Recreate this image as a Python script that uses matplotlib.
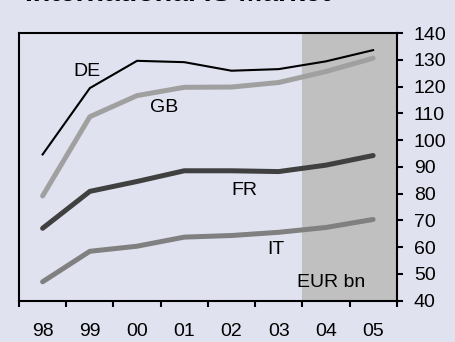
import matplotlib
matplotlib.use("Agg")
import matplotlib.pyplot as plt

plt.rcParams['font.family'] = ['Liberation Sans', 'DejaVu Sans']

# data
years = ["98", "99", "00", "01", "02", "03", "04", "05"]
de = [94.6, 119.4, 129.6, 129.1, 125.9, 126.5, 129.4, 133.6]
gb = [79.1, 108.7, 116.6, 119.7, 119.8, 121.5, 125.6, 130.6]
fr = [67.0, 80.8, 84.5, 88.5, 88.5, 88.2, 90.6, 94.2]
it = [47.0, 58.4, 60.3, 63.7, 64.3, 65.5, 67.3, 70.3]
forecast_from = 6  # index of first forecast year (04)

bg = "#e0e2f0"
fig = plt.figure(figsize=(4.56, 3.42), dpi=100, facecolor=bg)
ax = fig.add_axes([0.0417, 0.1213, 0.8283, 0.7822])
ax.set_facecolor(bg)

x = list(range(len(years)))
ax.axvspan(forecast_from - 0.5, len(years) - 0.5, color="#c0c0c0", lw=0, zorder=0)

ax.plot(x, gb, color="#a0a0a0", lw=3.6, solid_capstyle="round", zorder=2)
ax.plot(x, it, color="#808080", lw=3.6, solid_capstyle="round", zorder=2)
ax.plot(x, fr, color="#404040", lw=3.6, solid_capstyle="round", zorder=2)
ax.plot(x, de, color="black", lw=1.5, zorder=3)

fs = 14
ax.text(0.93, 125.6, "DE", fontsize=fs, ha="center", va="center")
ax.text(2.57, 112, "GB", fontsize=fs, ha="center", va="center")
ax.text(4.27, 81.2, "FR", fontsize=fs, ha="center", va="center")
ax.text(4.95, 59, "IT", fontsize=fs, ha="center", va="center")
ax.text(6.11, 46.9, "EUR bn", fontsize=fs, ha="center", va="center")

ax.set_xlim(-0.5, len(years) - 0.5)
ax.set_ylim(40, 140)
ax.set_yticks(range(40, 141, 10))
ax.yaxis.tick_right()
ax.tick_params(axis="y", direction="out", length=4.3, width=1.5, labelsize=fs, pad=8)

ax.set_xticks([i - 0.5 for i in range(len(years) + 1)])
ax.set_xticklabels([])
ax.set_xticks(x, minor=True)
ax.set_xticklabels(years, minor=True)
ax.tick_params(axis="x", which="major", direction="out", length=4, width=1.5)
ax.tick_params(axis="x", which="minor", length=0, labelsize=fs, pad=16)

for s in ax.spines.values():
    s.set_linewidth(1.5)

# title sits mostly above the canvas, as in the source crop
fig.text(0.055, 0.996, "International IS Market", fontsize=20.5, fontweight="bold",
         ha="left", va="baseline")

fig.savefig("out.png", dpi=100, facecolor=bg)
